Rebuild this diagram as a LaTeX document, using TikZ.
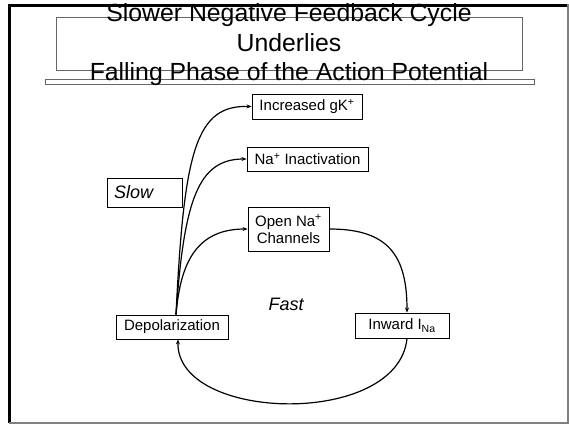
\documentclass[tikz,border=0pt]{standalone}
\usepackage{fontspec}
\setmainfont{Liberation Sans}
\usetikzlibrary{arrows.meta}
\begin{document}
\begin{tikzpicture}[x=1pt,y=-1pt,
  box/.style={draw=black,line width=0.9pt,fill=white,inner sep=0pt,font=\fontsize{15}{17}\selectfont,align=center},
  conn/.style={line width=1.2pt,-{Stealth[length=5pt,width=4pt]}},
  titletext/.style={anchor=base,inner sep=0pt,font=\fontsize{24.8}{28}\selectfont}]
\useasboundingbox (0,0) rectangle (569,426);
% outer frame
\draw[black,line width=3pt] (9.5,423) -- (9.5,5) -- (567,5);
\draw[gray,line width=2pt] (567.5,4) -- (567.5,423) -- (9,423);
% title box and bar
\draw[gray!80!black,line width=1pt] (56,17) rectangle (522,70);
\draw[gray!80!black,fill=white,line width=0.9pt] (45,79) rectangle (534,84);
\node[titletext] (t1) at (289,21) {Slower Negative Feedback Cycle};
\node[titletext] (t2) at (289,51.5) {Underlies};
\node[titletext] (t3) at (289,80.5) {Falling Phase of the Action Potential};
% nodes
\node[box,minimum width=110pt,minimum height=25pt] (gk) at (307,106.5) {Increased gK\textsuperscript{+}};
\node[box,minimum width=121pt,minimum height=24pt] (inact) at (307.5,159) {Na\textsuperscript{+} Inactivation};
\node[box,minimum width=81pt,minimum height=44pt] (open) at (288.5,229) {Open Na\textsuperscript{+}\\Channels};
\node[box,minimum height=29pt,inner xsep=7pt,text width=61pt,align=left,font=\fontsize{18}{20}\selectfont\itshape] (slow) at (144.5,192.5) {Slow};
\node[box,minimum width=112pt,minimum height=24pt] (dep) at (172,327) {Depolarization};
\node[box,minimum width=94pt,minimum height=25pt] (inw) at (402,325.5) {Inward I\textsubscript{Na}};
\node[inner sep=0pt,font=\fontsize{18}{20}\selectfont\itshape] (fast) at (286,304) {Fast};
% connectors
\coordinate (d0) at ([xshift=4pt]dep.north);
\draw[conn] (d0) .. controls (184,150) and (196,105) .. (gk.west);
\draw[conn] (d0) .. controls (184,200) and (198,159) .. (inact.west);
\draw[conn] (d0) .. controls (180,270) and (192,229) .. (open.west);
\draw[conn] (open.east) .. controls (388,229) and (407,255) .. ([xshift=5pt]inw.north);
\draw[conn] ([xshift=5pt]inw.south) .. controls (398,428) and (176,422) .. ([xshift=6pt]dep.south);
\end{tikzpicture}
\end{document}
